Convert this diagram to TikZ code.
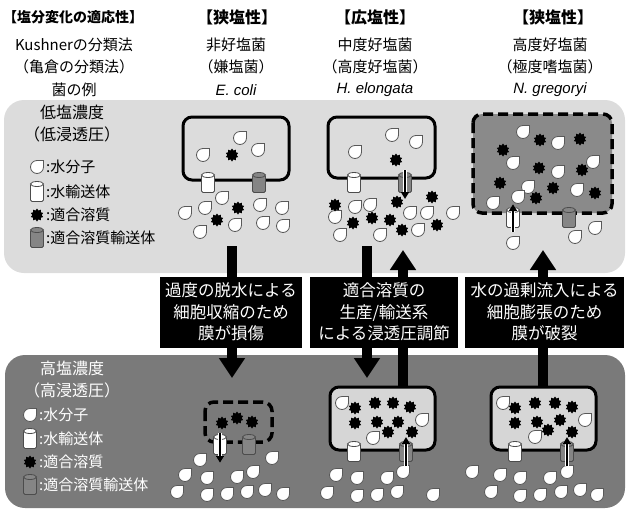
\documentclass[tikz,border=0pt]{standalone}
\usepackage{fontspec}
\setmainfont{Noto Sans CJK JP}
\newfontfamily\latin{Liberation Sans}
\usepackage{xcolor}
\usetikzlibrary{shapes.geometric,arrows.meta,positioning}
\definecolor{lopanel}{HTML}{DCDCDC}
\definecolor{hipanel}{HTML}{7A7A7A}
\definecolor{swollen}{HTML}{8A8A8A}
\definecolor{cytosol}{HTML}{D6D6D6}
\definecolor{portgray}{HTML}{858585}
\tikzset{
  head_txt/.style = {inner sep=0pt, font=\fontsize{16}{22}\selectfont\bfseries},
  col_txt/.style = {inner sep=0pt, align=center, font=\fontsize{15}{22}\selectfont},
  sp_txt/.style = {inner sep=0pt, font=\fontsize{15}{22}\selectfont\latin\itshape},
  cond_txt/.style = {inner sep=0pt, align=center, font=\fontsize{16}{22}\selectfont},
  key_txt/.style = {anchor=west, inner sep=0pt, font=\fontsize{15}{18}\selectfont},
  note_box/.style = {fill=black, text=white, align=center, inner sep=0pt, minimum height=71pt, font=\fontsize{16.5}{21.5}\selectfont},
  memb/.style = {draw=black, line width=3pt, rounded corners=9pt},
  memb_broken/.style = {memb, dash pattern=on 10pt off 5pt, line width=3.5pt},
  solute/.style = {star, star points=10, star point ratio=1.4, fill=black, minimum size=13pt, inner sep=0pt},
  big_arrow/.style = {line width=10pt, -{Triangle[width=25pt,length=20pt]}},
  port_arrow/.style = {line width=2.2pt, -{Triangle[width=8pt,length=7pt]}, preaction={draw=white, line width=4pt}},
  pics/drop/.style = {code={\draw[fill=white, draw=black!65, line width=0.8pt] (6.5,0) arc (0:270:6.5) -- (6.5,-6.5) -- cycle;}},
  pics/porter/.style = {code={
    \draw[fill=#1, draw=black!70, line width=0.8pt, rounded corners=1.5pt] (-6.5,-8) rectangle (6.5,9.5);
    \draw[fill=#1, draw=black!70, line width=0.8pt] (0,-8) ellipse (6.5 and 2.5);}}
}
\begin{document}
\begin{tikzpicture}[x=1pt, y=-1pt]
  \useasboundingbox (0,0) rectangle (629,512);

  \node[head_txt, font=\fontsize{14}{22}\selectfont\bfseries] (h_adapt) at (73,17) {【塩分変化の適応性】};
  \node[head_txt] (h_eco) at (237,17) {【狭塩性】};
  \node[head_txt] (h_hel) at (375,17) {【広塩性】};
  \node[head_txt] (h_ngr) at (553,17) {【狭塩性】};
  \node[col_txt] (c_class) at (74,56) {Kushnerの分類法\\（亀倉の分類法）};
  \node[col_txt] (c_eco) at (236,56) {非好塩菌\\（嫌塩菌）};
  \node[col_txt] (c_hel) at (375,56) {中度好塩菌\\（高度好塩菌）};
  \node[col_txt] (c_ngr) at (550,56) {高度好塩菌\\（極度嗜塩菌）};
  \node[col_txt] (s_lbl) at (74,90) {菌の例};
  \node[sp_txt] (s_eco) at (236,90) {E. coli};
  \node[sp_txt] (s_hel) at (375,90) {H. elongata};
  \node[sp_txt] (s_ngr) at (550,90) {N. gregoryi};

  \fill[lopanel, rounded corners=20pt] (4,100) rectangle (625,273);
  \fill[hipanel, rounded corners=20pt] (5,355) rectangle (625,508);

  \coordinate (eco_from) at (232,246);
  \coordinate (eco_to) at (232,378);
  \coordinate (hel_from) at (367,246);
  \coordinate (hel_to) at (367,378);
  \coordinate (hel_up_from) at (403,388);
  \coordinate (hel_up_to) at (403,250);
  \coordinate (ngr_up_from) at (543,388);
  \coordinate (ngr_up_to) at (543,250);
  \draw[big_arrow] (eco_from) -- (eco_to);
  \draw[big_arrow] (hel_from) -- (hel_to);
  \draw[big_arrow] (hel_up_from) -- (hel_up_to);
  \draw[big_arrow] (ngr_up_from) -- (ngr_up_to);

  \node[note_box, minimum width=142pt] (shrink) at (231,312) {過度の脱水による\\細胞収縮のため\\膜が損傷};
  \node[note_box, minimum width=148pt] (adjust) at (384,312) {適合溶質の\\生産/輸送系\\による浸透圧調節};
  \node[note_box, minimum width=159pt] (burst) at (544.5,312) {水の過剰流入による\\細胞膨張のため\\膜が破裂};

  \node[cond_txt] (lo_title) at (72,124) {低塩濃度\\（低浸透圧）};
  \pic at (37,167) {drop};
  \node[key_txt] (lo_k1) at (46,167) {:水分子};
  \pic at (37,192) {porter=white};
  \node[key_txt] (lo_k2) at (46,192) {:水輸送体};
  \node[solute] (lo_s) at (37,215) {};
  \node[key_txt] (lo_k3) at (46,215) {:適合溶質};
  \pic at (37,238) {porter=portgray};
  \node[key_txt] (lo_k4) at (46,238) {:適合溶質輸送体};

  \node[cond_txt, text=white] (hi_title) at (72,380) {高塩濃度\\（高浸透圧）};
  \pic at (30,415) {drop};
  \node[key_txt, text=white] (hi_k1) at (39,415) {:水分子};
  \pic at (30,439) {porter=white};
  \node[key_txt, text=white] (hi_k2) at (39,439) {:水輸送体};
  \node[solute] (hi_s) at (30,462) {};
  \node[key_txt, text=white] (hi_k3) at (39,462) {:適合溶質};
  \pic at (30,485) {porter=portgray};
  \node[key_txt, text=white] (hi_k4) at (39,485) {:適合溶質輸送体};

  \draw[memb] (183,117) rectangle (289,180);
  \foreach \p in {(240,138),(203,155),(258,150),(222,198),(205,208),(185,213),(200,232),(235,225),(260,205),(282,208),(263,223),(283,226)}
    \pic at \p {drop};
  \foreach \p in {(232,155),(238,208),(217,220)}
    \node[solute] at \p {};
  \pic at (208,183) {porter=white};
  \pic at (259,183) {porter=portgray};

  \draw[memb] (328,117) rectangle (435,178);
  \foreach \p in {(392,135),(416,142),(355,152),(355,207),(370,205),(335,217),(340,235),(380,235),(410,213),(427,213),(453,213),(418,230)}
    \pic at \p {drop};
  \foreach \p in {(396,160),(335,205),(397,202),(432,197),(353,223),(372,218),(390,220),(402,230),(437,225)}
    \node[solute] at \p {};
  \pic at (354,183) {porter=white};
  \pic at (405,183) {porter=portgray};
  \draw[port_arrow] (405,170) -- (405,199);

  \draw[memb_broken, fill=swollen] (473,114) rectangle (612,213);
  \foreach \p in {(523,132),(558,143),(513,163),(593,162),(558,172),(528,187),(577,190),(518,197),(493,203),(595,228),(575,237),(513,243)}
    \pic at \p {drop};
  \foreach \p in {(540,140),(580,139),(503,150),(539,168),(582,170),(500,183),(553,188),(536,198),(595,193)}
    \node[solute] at \p {};
  \pic at (513,218) {porter=white};
  \pic at (569,218) {porter=portgray};
  \draw[port_arrow] (513,232) -- (513,204);

  \draw[memb_broken] (205,402) rectangle (272,442);
  \foreach \p in {(222,423),(237,418),(252,422)}
    \node[solute] at \p {};
  \foreach \p in {(200,460),(272,458),(185,475),(207,478),(237,477),(253,472),(177,492),(207,495),(227,494),(247,492),(265,490),(283,494)}
    \pic at \p {drop};
  \pic at (220,445) {porter=white};
  \pic at (249,445) {porter=portgray};
  \draw[port_arrow] (220,433) -- (220,463);

  \draw[memb, fill=cytosol] (330,387) rectangle (435,450);
  \foreach \p in {(342,403),(422,420),(373,438),(336,475),(357,478),(387,478),(403,472),(327,493),(357,496),(377,495),(397,492),(433,495)}
    \pic at \p {drop};
  \foreach \p in {(355,408),(375,403),(393,403),(410,407),(355,423),(377,422),(398,422),(388,432),(412,432)}
    \node[solute] at \p {};
  \pic at (354,452) {porter=white};
  \pic at (406,452) {porter=portgray};
  \draw[port_arrow] (406,466) -- (406,437);

  \draw[memb, fill=cytosol] (491,387) rectangle (596,450);
  \foreach \p in {(503,403),(585,420),(535,437),(472,472),(500,475),(520,478),(550,478),(567,472),(491,492),(520,496),(540,495),(561,492),(580,490),(597,495)}
    \pic at \p {drop};
  \foreach \p in {(515,408),(535,403),(555,403),(572,407),(515,423),(537,422),(560,420),(548,430),(572,432)}
    \node[solute] at \p {};
  \pic at (515,452) {porter=white};
  \pic at (567,452) {porter=portgray};
  \draw[port_arrow] (567,466) -- (567,437);
\end{tikzpicture}
\end{document}
